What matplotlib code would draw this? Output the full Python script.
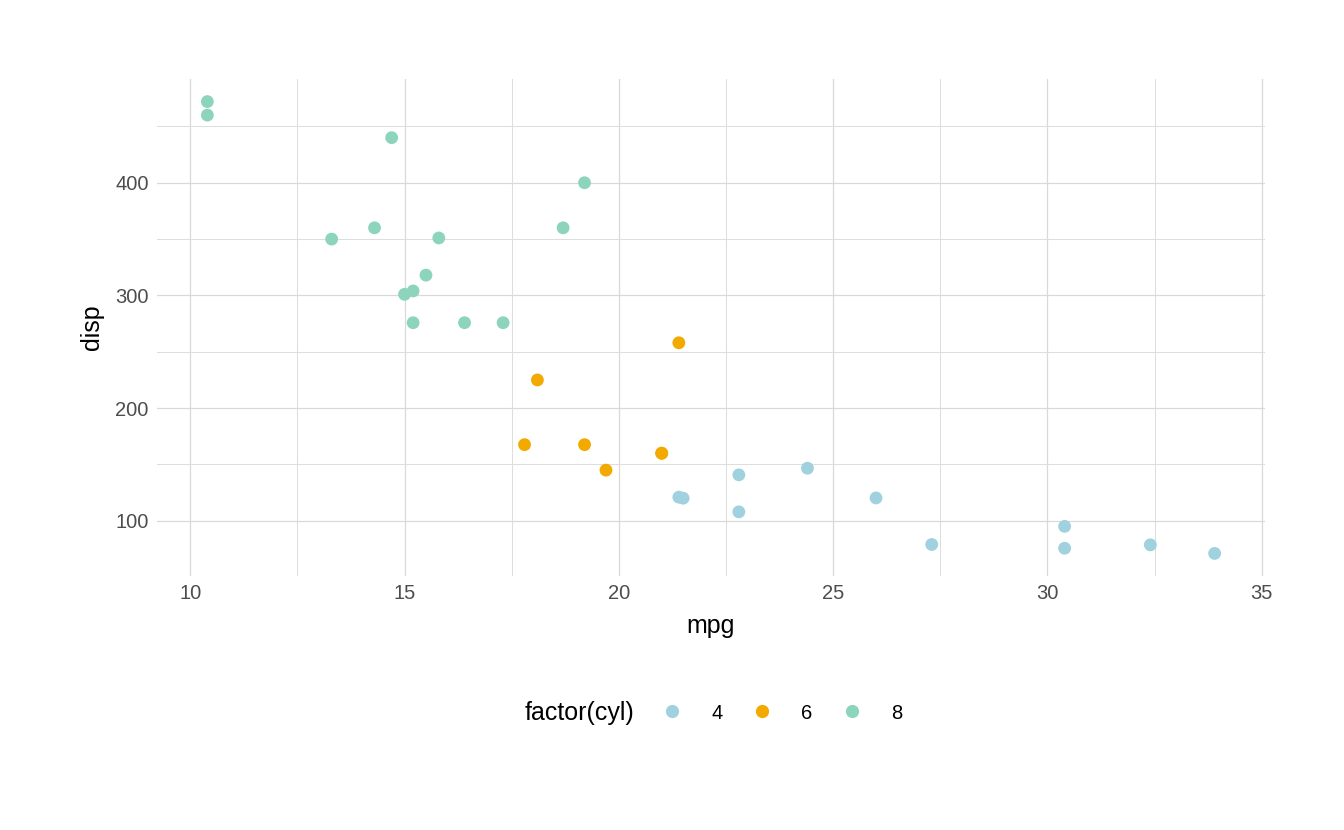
import matplotlib
matplotlib.use("Agg")
import matplotlib.pyplot as plt
from matplotlib.ticker import MultipleLocator
from matplotlib.lines import Line2D

# mtcars: mpg, cyl, disp
mpg = [21.0, 21.0, 22.8, 21.4, 18.7, 18.1, 14.3, 24.4, 22.8, 19.2, 17.8,
       16.4, 17.3, 15.2, 10.4, 10.4, 14.7, 32.4, 30.4, 33.9, 21.5, 15.5,
       15.2, 13.3, 19.2, 27.3, 26.0, 30.4, 15.8, 19.7, 15.0, 21.4]
cyl = [6, 6, 4, 6, 8, 6, 8, 4, 4, 6, 6, 8, 8, 8, 8, 8, 8, 4, 4, 4, 4, 8,
       8, 8, 8, 4, 4, 4, 8, 6, 8, 4]
disp = [160, 160, 108, 258, 360, 225, 360, 146.7, 140.8, 167.6, 167.6,
        275.8, 275.8, 275.8, 472, 460, 440, 78.7, 75.7, 71.1, 120.1, 318,
        304, 350, 400, 79, 120.3, 95.1, 351, 145, 301, 121]
levels = [4, 6, 8]
colors = {4: "#9fd2de", 6: "#f2a900", 8: "#8dd4bd"}

plt.rcParams["font.family"] = ["Liberation Sans Narrow", "Liberation Sans", "DejaVu Sans"]

fig = plt.figure(figsize=(13.44, 8.3), dpi=100)
ax = fig.add_axes([157 / 1344, 1 - 576 / 830, (1265 - 157) / 1344, (576 - 79) / 830])

for lv in levels:
    xs = [m for m, c in zip(mpg, cyl) if c == lv]
    ys = [d for d, c in zip(disp, cyl) if c == lv]
    ax.scatter(xs, ys, s=85, color=colors[lv], edgecolors="none", zorder=3)

xr = max(mpg) - min(mpg)
yr = max(disp) - min(disp)
ax.set_xlim(min(mpg) - 0.05 * xr, max(mpg) + 0.05 * xr)
ax.set_ylim(min(disp) - 0.05 * yr, max(disp) + 0.05 * yr)

ax.xaxis.set_major_locator(MultipleLocator(5))
ax.xaxis.set_minor_locator(MultipleLocator(2.5))
ax.yaxis.set_major_locator(MultipleLocator(100))
ax.yaxis.set_minor_locator(MultipleLocator(50))
ax.grid(True, which="major", color="#d9d9d9", linewidth=0.9, zorder=0)
ax.grid(True, which="minor", color="#dedede", linewidth=0.75, zorder=0)
ax.set_axisbelow(True)
for sp in ax.spines.values():
    sp.set_visible(False)
ax.tick_params(which="both", length=0, labelsize=14.5, colors="#4d4d4d", pad=6)

ax.set_xlabel("mpg", fontsize=18, labelpad=8)
ax.set_ylabel("disp", fontsize=18, labelpad=8)

# legend: title drawn as text to the left of a single-row legend
fig.text(525 / 1344, 1 - 713 / 830, "factor(cyl)", fontsize=18,
         ha="left", va="center")
handles = [Line2D([], [], marker="o", linestyle="none", markersize=9.5,
                  markerfacecolor=colors[lv], markeredgecolor="none", label=str(lv))
           for lv in levels]
fig.legend(handles=handles, loc="center left", ncol=3,
           bbox_to_anchor=(658 / 1344, 1 - 713 / 830), frameon=False,
           fontsize=14.5, handlelength=1.4, handletextpad=1.25,
           columnspacing=1.25, borderpad=0, borderaxespad=0)

fig.savefig("out.png", dpi=100)
